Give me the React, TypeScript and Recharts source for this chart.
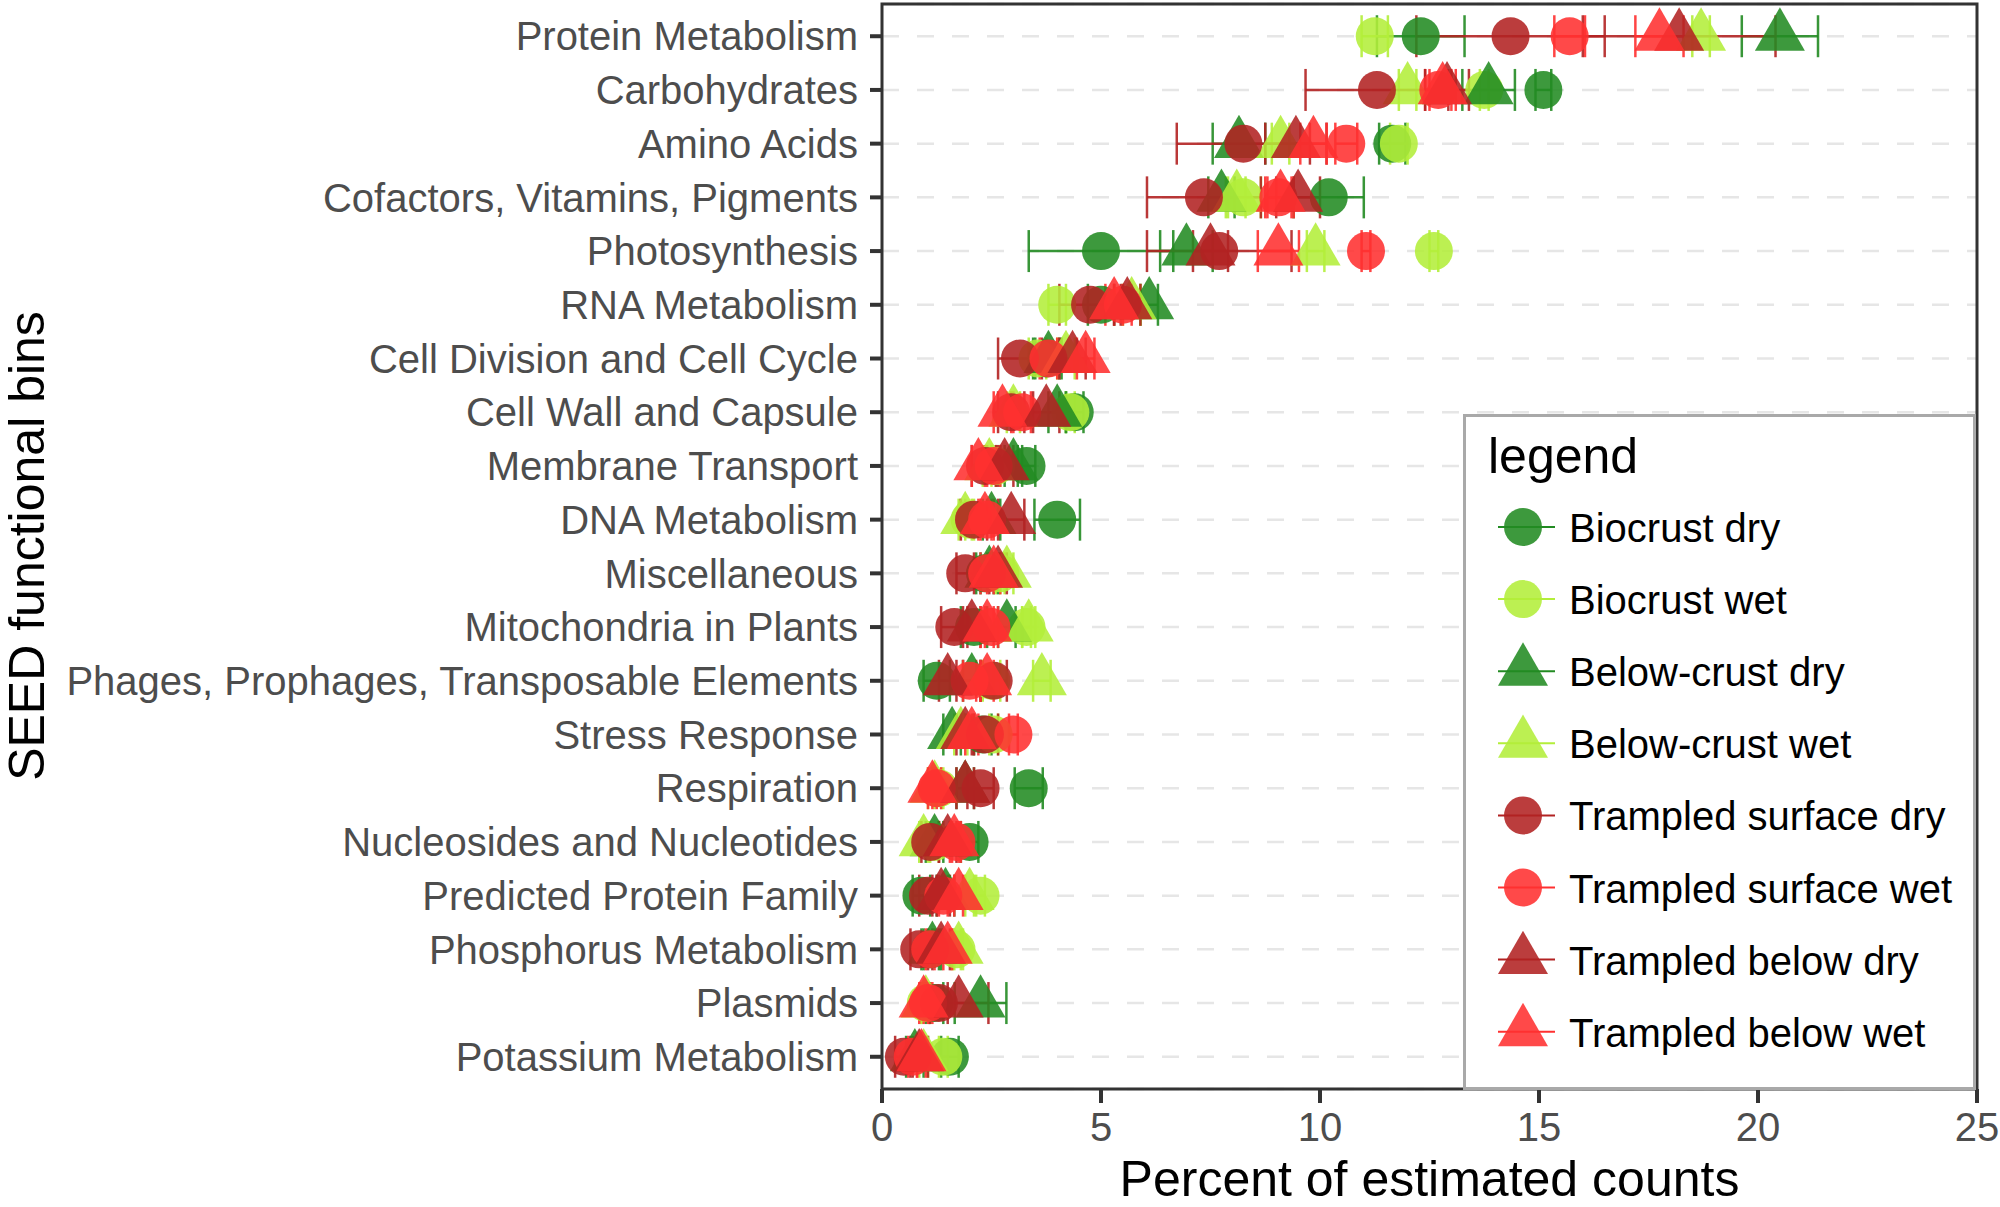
import { CartesianGrid, ErrorBar, Legend, ReferenceArea, Scatter, ScatterChart, XAxis, YAxis } from "recharts"

const categories = [
  "Protein Metabolism",
  "Carbohydrates",
  "Amino Acids",
  "Cofactors, Vitamins, Pigments",
  "Photosynthesis",
  "RNA Metabolism",
  "Cell Division and Cell Cycle",
  "Cell Wall and Capsule",
  "Membrane Transport",
  "DNA Metabolism",
  "Miscellaneous",
  "Mitochondria in Plants",
  "Phages, Prophages, Transposable Elements",
  "Stress Response",
  "Respiration",
  "Nucleosides and Nucleotides",
  "Predicted Protein Family",
  "Phosphorus Metabolism",
  "Plasmids",
  "Potassium Metabolism",
]

const xTicks = [0, 5, 10, 15, 20, 25]

const biocrustDry = [12.3, 15.1, 11.65, 10.2, 5.0, 5.0, 3.75, 4.4, 3.3, 4.0, 2.35, 2.1, 1.25, 2.3, 3.35, 2.0, 0.9, 1.1, 1.2, 1.55]
const biocrustDryErr = [1.0, 0.18, 0.3, 0.8, 1.65, 0.3, 0.3, 0.2, 0.2, 0.52, 0.2, 0.3, 0.3, 0.2, 0.32, 0.2, 0.2, 0.2, 0.2, 0.2]

const biocrustWet = [11.25, 13.75, 11.8, 8.25, 12.6, 4.0, 3.55, 4.3, 2.6, 2.0, 2.7, 3.3, 2.5, 2.55, 1.3, 1.2, 2.25, 1.7, 1.0, 1.4]
const biocrustWetErr = [0.3, 0.1, 0.2, 0.4, 0.1, 0.2, 0.2, 0.1, 0.1, 0.1, 0.1, 0.1, 0.2, 0.1, 0.1, 0.1, 0.1, 0.1, 0.1, 0.1]

const belowDry = [20.5, 13.85, 8.15, 7.75, 6.95, 6.1, 3.8, 4.0, 3.0, 2.5, 2.45, 2.85, 2.05, 1.6, 1.9, 1.2, 1.45, 1.15, 2.25, 0.75]
const belowDryErr = [0.87, 0.6, 0.6, 0.3, 0.6, 0.2, 0.3, 0.2, 0.2, 0.2, 0.2, 0.2, 0.2, 0.2, 0.2, 0.2, 0.2, 0.2, 0.59, 0.2]

const belowWet = [18.7, 12.0, 9.1, 8.1, 9.9, 5.7, 4.2, 3.0, 2.45, 1.9, 2.85, 3.35, 3.65, 1.8, 1.2, 0.95, 2.0, 1.75, 1.0, 0.95]
const belowWetErr = [0.2, 0.2, 0.2, 0.2, 0.2, 0.2, 0.2, 0.15, 0.15, 0.15, 0.15, 0.15, 0.2, 0.15, 0.15, 0.1, 0.1, 0.1, 0.1, 0.1]

const surfaceDry = [14.35, 11.3, 8.25, 7.35, 7.7, 4.75, 3.15, 2.95, 2.35, 2.1, 1.9, 1.65, 2.55, 2.35, 2.25, 1.1, 1.05, 0.85, 1.3, 0.5]
const surfaceDryErr = [2.15, 1.63, 1.52, 1.3, 1.65, 0.7, 0.5, 0.3, 0.3, 0.3, 0.2, 0.3, 0.3, 0.3, 0.3, 0.2, 0.2, 0.2, 0.2, 0.2]

const surfaceWet = [15.7, 12.7, 10.6, 9.05, 11.05, 5.5, 3.8, 3.2, 2.55, 2.4, 2.4, 2.5, 2.0, 3.0, 1.25, 1.7, 1.4, 1.1, 1.05, 0.7]
const surfaceWetErr = [0.35, 0.3, 0.25, 0.3, 0.1, 0.2, 0.2, 0.2, 0.15, 0.15, 0.15, 0.15, 0.15, 0.1, 0.1, 0.1, 0.1, 0.1, 0.1, 0.1]

const belowTrampledDry = [18.2, 12.9, 9.45, 9.5, 7.5, 5.6, 4.35, 3.75, 2.8, 2.95, 2.65, 2.05, 1.5, 1.9, 1.9, 1.5, 1.35, 1.35, 1.75, 0.85]
const belowTrampledDryErr = [2.2, 0.5, 0.7, 0.5, 0.4, 0.3, 0.3, 0.3, 0.2, 0.3, 0.2, 0.2, 0.2, 0.2, 0.2, 0.2, 0.2, 0.2, 0.68, 0.2]

const belowTrampledWet = [17.75, 12.8, 9.85, 9.1, 9.05, 5.3, 4.65, 2.75, 2.2, 2.35, 2.55, 2.4, 2.4, 2.05, 1.15, 1.65, 1.75, 1.5, 0.95, 0.9]
const belowTrampledWetErr = [0.55, 0.3, 0.3, 0.3, 0.47, 0.2, 0.2, 0.2, 0.15, 0.15, 0.15, 0.15, 0.15, 0.15, 0.1, 0.1, 0.1, 0.1, 0.1, 0.1]

const GREEN = "#228B22"
const LIME = "#B3EE3A"
const DARKRED = "#B22222"
const RED = "#FF3030"

const series = [
  { name: "Biocrust dry", color: GREEN, shape: "circle", values: biocrustDry, errors: biocrustDryErr },
  { name: "Biocrust wet", color: LIME, shape: "circle", values: biocrustWet, errors: biocrustWetErr },
  { name: "Below-crust dry", color: GREEN, shape: "triangle", values: belowDry, errors: belowDryErr },
  { name: "Below-crust wet", color: LIME, shape: "triangle", values: belowWet, errors: belowWetErr },
  { name: "Trampled surface dry", color: DARKRED, shape: "circle", values: surfaceDry, errors: surfaceDryErr },
  { name: "Trampled surface wet", color: RED, shape: "circle", values: surfaceWet, errors: surfaceWetErr },
  { name: "Trampled below dry", color: DARKRED, shape: "triangle", values: belowTrampledDry, errors: belowTrampledDryErr },
  { name: "Trampled below wet", color: RED, shape: "triangle", values: belowTrampledWet, errors: belowTrampledWetErr },
]

const FONT = "'Liberation Sans', Arial, Helvetica, sans-serif"
const OPACITY = 0.88

const Marker = ({ cx, cy, shape, color }: any) => {
  if (shape === "circle") {
    return <circle cx={cx} cy={cy} r={19} fill={color} fillOpacity={OPACITY} />
  }
  // triangle centred on its centroid
  const s = 50
  const h = 43.3
  return (
    <polygon
      points={`${cx},${cy - (2 * h) / 3} ${cx - s / 2},${cy + h / 3} ${cx + s / 2},${cy + h / 3}`}
      fill={color}
      fillOpacity={OPACITY}
    />
  )
}

const LegendBox = () => (
  <svg width={513} height={676} style={{ display: "block", fontFamily: FONT }}>
    <rect x={1.5} y={1.5} width={510} height={673} fill="#fff" stroke="#A9A9A9" strokeWidth={3} />
    <text x={25} y={59} fontSize={50} fill="#000">legend</text>
    {series.map((s, i) => {
      const cy = 113 + i * 72.1
      return (
        <g key={s.name}>
          <Marker cx={60} cy={cy} shape={s.shape} color={s.color} />
          <line x1={35} x2={92} y1={cy} y2={cy} stroke={s.color} strokeWidth={2} />
          <text x={106} y={cy + 15} fontSize={40} fill="#000">{s.name}</text>
        </g>
      )
    })}
  </svg>
)

export default function App() {
  return (
    <div style={{ position: "absolute", left: 0, top: 0, width: 2000, height: 1207, background: "#fff" }}>
      <ScatterChart width={2000} height={1207} margin={{ top: 4, right: 23, left: 0, bottom: 0 }}>
        <CartesianGrid horizontal vertical={false} stroke="#E6E6E6" strokeWidth={2.5} strokeDasharray="17 18" />
        <XAxis
          type="number"
          dataKey="x"
          domain={[0, 25]}
          ticks={xTicks}
          allowDataOverflow
          height={118}
          tickSize={14}
          tickMargin={10}
          axisLine={false}
          tickLine={{ stroke: "#333333", strokeWidth: 4 }}
          tick={{ fill: "#4D4D4D", fontSize: 40, fontFamily: FONT }}
          label={(props: any) => {
            const vb = props.viewBox || {}
            return (
              <text x={(vb.x ?? 882) + (vb.width ?? 1095) / 2} y={1196} textAnchor="middle" fontSize={50} fill="#000" fontFamily={FONT}>
                Percent of estimated counts
              </text>
            )
          }}
        />
        <YAxis
          type="number"
          dataKey="y"
          domain={[-0.6, 19.6]}
          reversed
          ticks={categories.map((_, i) => i)}
          interval={0}
          tickFormatter={(i: number) => categories[i]}
          width={882}
          tickSize={12}
          tickMargin={12}
          axisLine={false}
          tickLine={{ stroke: "#333333", strokeWidth: 4 }}
          tick={{ fill: "#4D4D4D", fontSize: 40, fontFamily: FONT }}
          label={() => (
            <text transform="translate(44,546) rotate(-90)" textAnchor="middle" fontSize={50} fill="#000" fontFamily={FONT}>
              SEED functional bins
            </text>
          )}
        />
        {series.map((s) => (
          <Scatter
            key={s.name}
            name={s.name}
            data={categories.map((c, i) => ({ cat: c, y: i, x: s.values[i], err: s.errors[i] }))}
            isAnimationActive={false}
            shape={(p: any) => <Marker cx={p.cx} cy={p.cy} shape={s.shape} color={s.color} />}
          />
        ))}
        {series.map((s) => (
          <Scatter
            key={s.name + "-err"}
            name={s.name + " error"}
            legendType="none"
            data={categories.map((c, i) => ({ cat: c, y: i, x: s.values[i], err: s.errors[i] }))}
            isAnimationActive={false}
            shape={() => <g />}
          >
            <ErrorBar dataKey="err" direction="x" width={21} stroke={s.color} strokeWidth={2.5} strokeOpacity={0.9} />
          </Scatter>
        ))}
        <ReferenceArea x1={0} x2={25} y1={-0.6} y2={19.6} fill="none" stroke="#333333" strokeWidth={3} ifOverflow="visible" />
        <Legend
          layout="vertical"
          align="center"
          verticalAlign="middle"
          content={() => <LegendBox />}
          wrapperStyle={{ left: 1463, top: 414, width: 513, height: 676 }}
        />
      </ScatterChart>
    </div>
  )
}
